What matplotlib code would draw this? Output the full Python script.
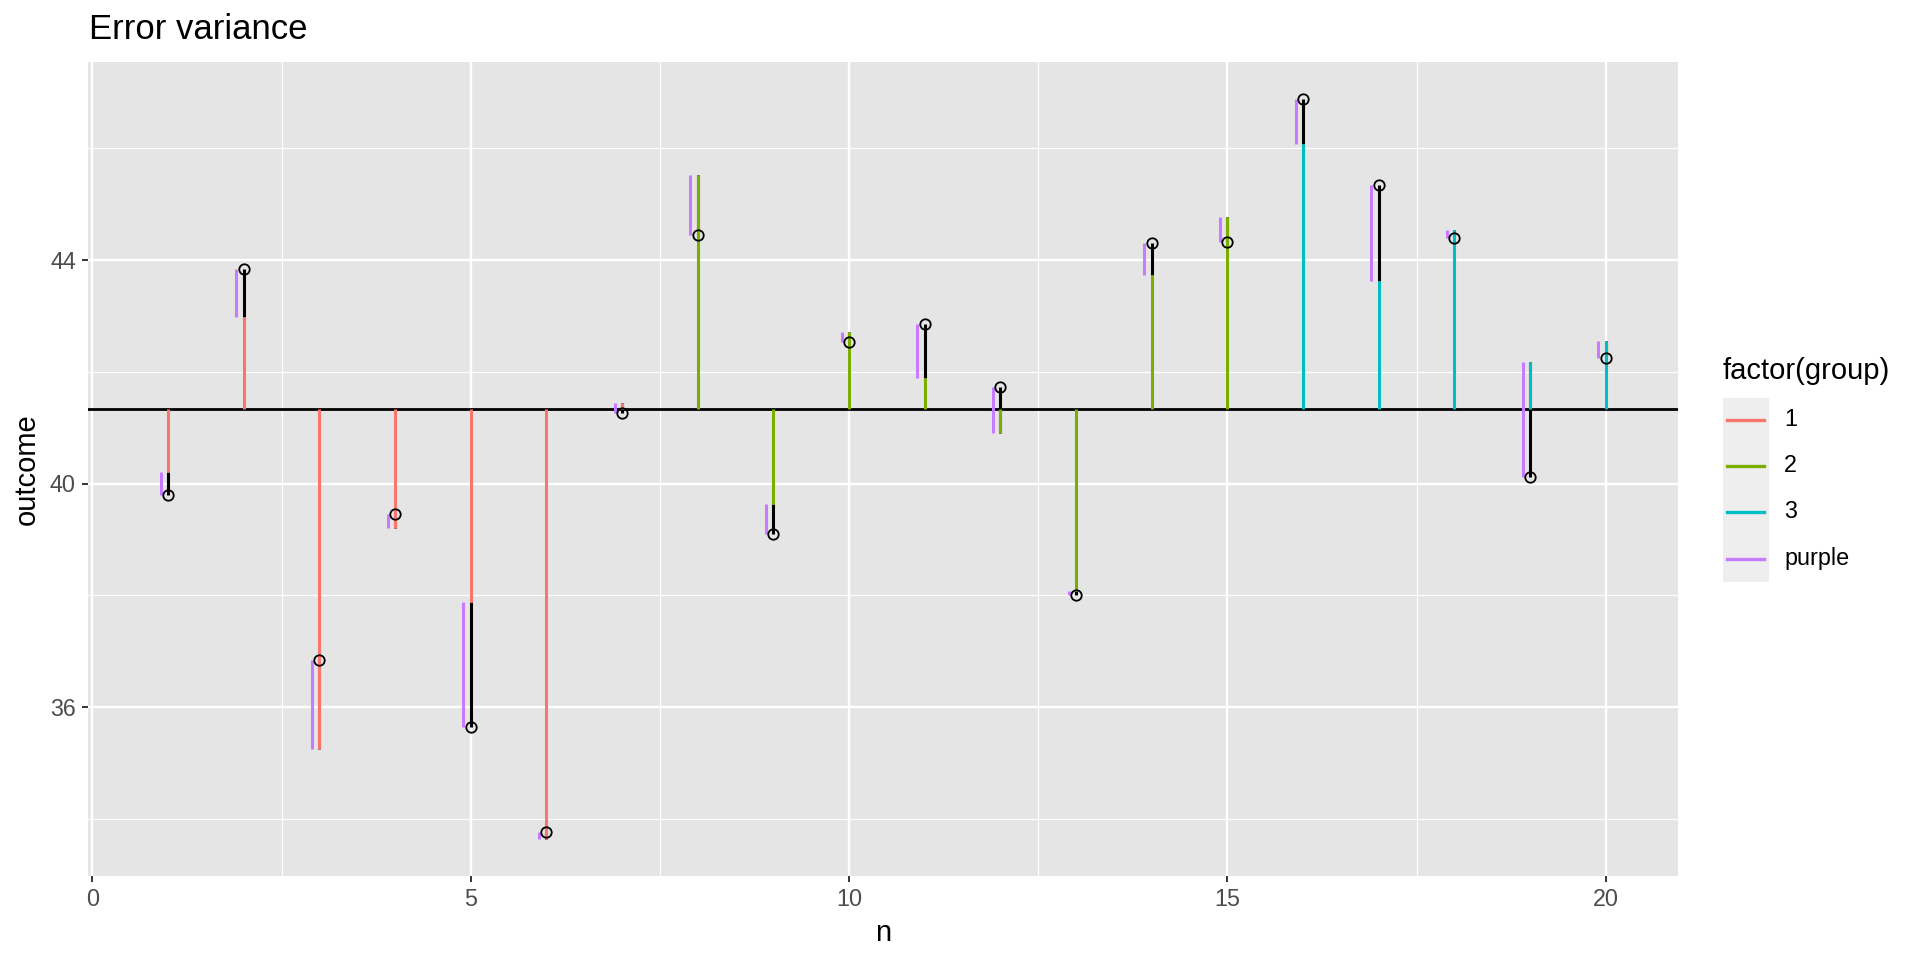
import matplotlib
matplotlib.use("Agg")
import matplotlib.pyplot as plt
from matplotlib.lines import Line2D
from matplotlib.patches import Rectangle
import numpy as np

plt.rcParams['font.family'] = ['Liberation Sans', 'DejaVu Sans']

# values
n = list(range(1, 21))
group = [1, 1, 1, 1, 1, 1, 1, 2, 2, 2, 2, 2, 2, 2, 2, 3, 3, 3, 3, 3]
outcome = [39.80, 43.84, 36.84, 39.46, 35.64, 33.76, 41.27, 44.45, 39.10, 42.53,
           42.85, 41.72, 38.00, 44.31, 44.33, 46.89, 45.35, 44.39, 40.11, 42.24]
fitted = [40.21, 42.98, 35.25, 39.21, 37.88, 33.64, 41.45, 45.52, 39.64, 42.72,
          41.89, 40.91, 38.07, 43.73, 44.78, 46.07, 43.63, 44.54, 42.17, 42.55]
grand_mean = 41.34

legend_labels = ['1', '2', '3', 'purple']
legend_colors = ['#F8766D', '#7CAE00', '#00BFC4', '#C77CFF']
group_colors = {1: '#F8766D', 2: '#7CAE00', 3: '#00BFC4'}
purple = '#C77CFF'
offset = 0.1

W, H = 1920, 960
fig = plt.figure(figsize=(W / 100, H / 100), dpi=100)
ax = fig.add_axes([88.3 / W, 1 - 875.7 / H, (1678 - 88.3) / W, (875.7 - 61.7) / H])

x = np.array(n, dtype=float)
y = np.array(outcome)
f = np.array(fitted)
cols = [group_colors[g] for g in group]

# residual (black), then group segment from grand mean, purple offset, points
ax.axhline(grand_mean, color='black', lw=2.0, zorder=2)
ax.vlines(x, f, y, color='black', lw=2.2, zorder=3)
ax.vlines(x, grand_mean, f, colors=cols, lw=2.2, zorder=4)
ax.vlines(x - offset, f, y, color=purple, lw=2.2, zorder=4)
ax.plot(x, y, 'o', mfc='none', mec='black', ms=7.5, mew=1.3, zorder=5)

# ggplot-like 5% expansion
xlo, xhi = (x - offset).min(), x.max()
ylo, yhi = min(y.min(), f.min()), max(y.max(), f.max())
ax.set_xlim(xlo - 0.05 * (xhi - xlo), xhi + 0.05 * (xhi - xlo))
ax.set_ylim(ylo - 0.05 * (yhi - ylo), yhi + 0.05 * (yhi - ylo))

ax.set_xticks([0, 5, 10, 15, 20])
ax.set_xticks([2.5, 7.5, 12.5, 17.5], minor=True)
ax.set_yticks([36, 40, 44])
ax.set_yticks([34, 38, 42, 46], minor=True)

ax.set_facecolor('#E5E5E5')
ax.set_axisbelow(True)
ax.grid(which='major', color='white', lw=1.7)
ax.grid(which='minor', color='white', lw=0.85)
for s in ax.spines.values():
    s.set_visible(False)
ax.tick_params(which='major', length=4.5, width=1.4, color='#333333',
               labelsize=16.8, labelcolor='#4D4D4D', pad=4.5)
ax.tick_params(which='minor', length=0)

ax.set_xlabel('n', fontsize=21, va='baseline')
ax.xaxis.set_label_coords(0.5, -0.0802)
ax.set_ylabel('outcome', fontsize=21, va='baseline')
ax.yaxis.set_label_coords(-0.0335, 0.5)

fig.text(89 / W, 1 - 39 / H, 'Error variance', fontsize=25, va='baseline', ha='left')

# legend
fig.text(1723 / W, 1 - 379 / H, 'factor(group)', fontsize=21, va='baseline', ha='left')
fig.add_artist(Rectangle((1723 / W, 1 - 582 / H), 46 / W, 184 / H,
                         transform=fig.transFigure, facecolor='#EEEEEE', edgecolor='none'))
key_y = [420, 466, 512, 559]
for lab, c, ky in zip(legend_labels, legend_colors, key_y):
    fig.add_artist(Line2D([1727 / W, 1764 / W], [1 - ky / H, 1 - ky / H],
                          transform=fig.transFigure, color=c, lw=2.4))
    fig.text(1784 / W, 1 - ky / H, lab, fontsize=16.8, va='center', ha='left')

fig.savefig('out.png', dpi=100)
